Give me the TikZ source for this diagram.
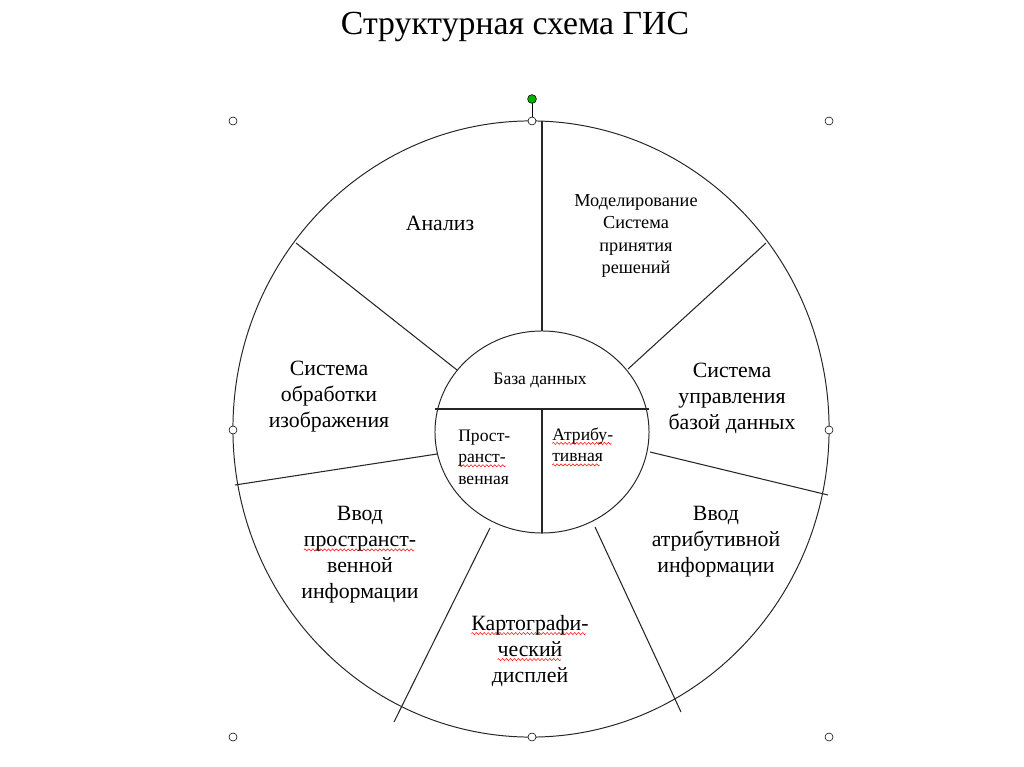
\documentclass[tikz,border=0pt]{standalone}
\usepackage{fontspec}
\setmainfont{Liberation Serif}
\usepackage{xcolor}
\usepackage{tikz}
\usetikzlibrary{positioning,calc}

% red spell-check wave under a word
\newsavebox\wavebit
\newcommand\spellwave[1]{%
  \setbox0\hbox{#1}%
  \rlap{\raisebox{-3.2pt}{\hbox to \wd0{\leaders\copy\wavebit\hfill}}}#1}

\begin{document}
\sbox\wavebit{\begin{pgfpicture}
  \pgfpathrectangle{\pgfpoint{0pt}{-1pt}}{\pgfpoint{2.8pt}{2pt}}
  \pgfusepath{use as bounding box}
  \pgfsetlinewidth{0.35pt}
  \pgfsetstrokecolor{red}
  \pgfpathmoveto{\pgfpoint{0pt}{0pt}}
  \pgfpathsine{\pgfpoint{0.7pt}{0.75pt}}
  \pgfpathcosine{\pgfpoint{0.7pt}{-0.75pt}}
  \pgfpathsine{\pgfpoint{0.7pt}{-0.75pt}}
  \pgfpathcosine{\pgfpoint{0.7pt}{0.75pt}}
  \pgfusepath{stroke}
\end{pgfpicture}}
\begin{tikzpicture}[
    x=0.025cm, y=-0.025cm,
    rim/.style={draw=black!85, line width=0.7pt},
    spoke/.style={draw=black!85, line width=0.75pt},
    sector/.style={
        font=\fontsize{15.5}{18.5}\selectfont,
        align=center,
        inner sep=0pt
    },
    small/.style={
        font=\fontsize{13}{16}\selectfont,
        align=center,
        inner sep=0pt
    },
    dbpart/.style={
        font=\fontsize{12.5}{15.3}\selectfont,
        align=left,
        inner sep=0pt
    },
    handle/.style={
        circle,
        draw=black,
        fill=white,
        line width=0.4pt,
        inner sep=0pt,
        minimum size=0.2cm
    }
]
\useasboundingbox (0,0) rectangle (1024,767);

\node[font=\fontsize{24}{29}\selectfont, inner sep=0pt] (title) at (515,27) {Структурная схема ГИС};

% outer ring and database core
\coordinate (oc) at (531,429);
\coordinate (ic) at (542,432);
\draw[rim] (oc) ellipse [x radius=7.45cm, y radius=7.7cm];
\draw[rim] (ic) ellipse [x radius=2.675cm, y radius=2.525cm];

\coordinate (itop) at (542,331);
\coordinate (ibot) at (542,533);
\coordinate (ileft) at (435,409);
\coordinate (iright) at (649,409);
\coordinate (imid) at (542,409);
\draw[spoke] (ileft) -- (iright);
\draw[spoke] (imid) -- (ibot);

% spokes
\coordinate (otop) at (542,121);
\draw[spoke] (itop) -- (otop);
\draw[spoke] (628,369) -- (766,243);
\draw[spoke] (650,452) -- (828,495);
\draw[spoke] (595,527) -- (681,712);
\draw[spoke] (490,528) -- (394,722);
\draw[spoke] (437,454) -- (235,485);
\draw[spoke] (457,370) -- (296,243);

% sector labels
\node[sector] (analiz) at (440,223) {Анализ};
\node[small] (model) at (636,236) {Моделирование\\Система\\принятия\\решений};
\node[sector] (obrab) at (329,397) {Система\\обработки\\изображения};
\node[sector] (subd) at (732,398) {Система\\управления\\базой данных};
\node[sector] (vvodpr) at (360,555) {Ввод\\\spellwave{пространст-}\\венной\\информации};
\node[sector] (vvodat) at (716,542) {Ввод\\атрибутивной\\информации};
\node[sector] (karto) at (530,651) {\spellwave{Картографи-}\\\spellwave{ческий}\\дисплей};

% database core labels
\node[small, font=\fontsize{12.5}{15}\selectfont] (baza) at (540,380) {База данных};
\node[dbpart, anchor=west] (prostr) at (458,457) {Прост-\\\spellwave{ранст-}\\венная};
\node[dbpart, anchor=west] (atrib) at (552,447) {\spellwave{Атрибу-}\\\spellwave{тивная}};

% selection handles
\coordinate (rot) at (532,99);
\draw[line width=0.4pt] (rot) -- (532,121);
\node[handle, fill=green!70!black, minimum size=0.22cm] (hrot) at (rot) {};
\node[handle] (h1) at (233,121) {};
\node[handle] (h2) at (532,121) {};
\node[handle] (h3) at (829,121) {};
\node[handle] (h4) at (233,430) {};
\node[handle] (h5) at (829,430) {};
\node[handle] (h6) at (233,737) {};
\node[handle] (h7) at (532,737) {};
\node[handle] (h8) at (829,737) {};
\end{tikzpicture}
\end{document}
